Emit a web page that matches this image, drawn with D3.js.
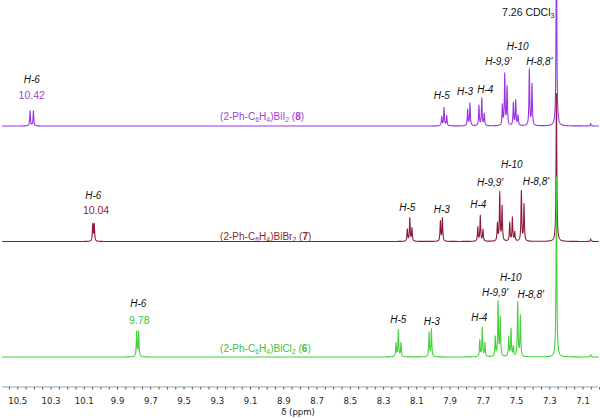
<!DOCTYPE html>
<html><head><meta charset="utf-8">
<script src="https://cdn.jsdelivr.net/npm/d3@7"></script>
<style>body{margin:0;background:#fff}svg{display:block}</style>
</head><body>
<svg id="c" width="600" height="419"></svg>
<script>
// ---------- data ----------
const axisLabels = [10.5,10.3,10.1,9.9,9.7,9.5,9.3,9.1,8.9,8.7,8.5,8.3,8.1,7.9,7.7,7.5,7.3,7.1];

// (2-Ph-C6H4)BiI2 (8)
const shifts8  = [10.426,10.406,7.950,7.936,7.920,7.794,7.780,7.726,7.709,7.694,7.585,7.571,7.557,7.519,7.505,7.491,7.423,7.407,7.26,7.054];
const heights8 = [15,15,9,18,10,16,22.5,20,27.5,12,20,51,38.5,22.5,25,10,56,41,200,2.5];
// (2-Ph-C6H4)BiBr2 (7)
const shifts7  = [10.049,10.040,8.157,8.142,8.129,7.958,7.946,7.733,7.718,7.702,7.615,7.601,7.587,7.541,7.525,7.511,7.471,7.455,7.26,7.054];
const heights7 = [17,17,12,23,13,20,23,14,25.5,11.5,17.5,48,34.5,18.5,23.5,9,50,36.5,148,2.5];
// (2-Ph-C6H4)BiCl2 (6)
const shifts6  = [9.785,9.773,8.225,8.211,8.195,8.026,8.012,7.721,7.706,7.690,7.628,7.611,7.598,7.547,7.533,7.519,7.493,7.477,7.26,7.054];
const heights6 = [25,25,13.5,26.5,14,24.5,27.5,16.5,29,14,19.5,54.5,38.5,19.5,27.5,9.5,54,40.5,180,2.5];

const hLabels = ["H-6","H-5","H-3","H-4","H-9,9'","H-10","H-8,8'"];
const labelShift8  = [10.416,7.950,7.810,7.688,7.609,7.493,7.363];
const labelHeight8 = [46.7,31,35,36.7,64.3,79.3,65];
const labelShift7  = [10.046,8.157,7.950,7.730,7.659,7.529,7.383];
const labelHeight7 = [45.7,34,32.4,37.4,59,76.7,60];
const labelShift6  = [9.775,8.211,8.010,7.724,7.629,7.535,7.415];
const labelHeight6 = [53.4,37.4,35.7,40,64.4,80,62.7];

const h6Values  = ["10.42","10.04","9.78"];
const h6Shift   = [10.416,10.029,9.769];
const h6Height  = [31,31.4,36.7];

const compoundNames  = ["(2-Ph-C_6H_4)BiI_2 (*8*)","(2-Ph-C_6H_4)BiBr_2 (*7*)","(2-Ph-C_6H_4)BiCl_2 (*6*)"];
const compoundShift  = 9.283;
const compoundHeight = [10,5.5,8.7];

const solventLabel = "7.26 CDCl_3";
const solventShift = 7.26;
const solventHeight = 113.3;

// ---------- rendering ----------
const svg = d3.select("#c");
const x = d3.scaleLinear().domain([10.607, 6.998]).range([0, 600]);

const traces = [
  {shifts: shifts8, heights: heights8, base: 126,   line: "#9a33e6", text: "#9f3fd6", lShift: labelShift8, lHeight: labelHeight8},
  {shifts: shifts7, heights: heights7, base: 241.5, line: "#8e1b3b", text: "#8c1f2f", lShift: labelShift7, lHeight: labelHeight7},
  {shifts: shifts6, heights: heights6, base: 357,   line: "#47cf3f", text: "#3cc23c", lShift: labelShift6, lHeight: labelHeight6}
];

const gamma = 0.0026;
function spectrum(shifts, heights) {
  const grid = d3.range(10.595, 7.005, -0.001).concat(shifts).sort((a,b)=>b-a);
  return grid.map(p => {
    let s = 0;
    for (let i = 0; i < shifts.length; i++) {
      const d = (p - shifts[i]) / gamma;
      s += heights[i] / (1 + d*d);
    }
    return [p, s];
  });
}

function richText(sel, str) {
  // _c => subscript char; *...* => bold
  let i = 0, bold = false, buf = "";
  const flush = () => { if (buf) { sel.append("tspan").attr("font-weight", bold ? "bold" : null).text(buf); buf = ""; } };
  while (i < str.length) {
    const c = str[i];
    if (c === "_") {
      flush();
      sel.append("tspan").attr("font-size", "7px").attr("baseline-shift", "-2").text(str[i+1]);
      i += 2; continue;
    }
    if (c === "*") { flush(); bold = !bold; i++; continue; }
    buf += c; i++;
  }
  flush();
}

traces.forEach((t, k) => {
  const y = d3.scaleLinear().domain([0, 100]).range([t.base, t.base - 100]);
  const data = spectrum(t.shifts, t.heights);
  svg.append("path")
    .attr("d", d3.line().x(d => x(d[0])).y(d => y(d[1]))(data))
    .attr("fill", "none").attr("stroke", t.line).attr("stroke-width", 1.1)
    .attr("stroke-linejoin", "round");

  t.lShift.forEach((s, i) => {
    svg.append("text")
      .attr("x", x(s)).attr("y", y(t.lHeight[i]))
      .attr("text-anchor", "middle").attr("dominant-baseline", "central")
      .attr("font-family", "Liberation Sans, Arial, sans-serif")
      .attr("font-style", "italic").attr("font-size", "10px").attr("fill", "#111")
      .text(hLabels[i]);
  });
  svg.append("text")
    .attr("x", x(h6Shift[k])).attr("y", y(h6Height[k]))
    .attr("text-anchor", "middle").attr("dominant-baseline", "central")
    .attr("font-family", "Liberation Sans, Arial, sans-serif")
    .attr("font-size", "10.5px").attr("fill", t.text)
    .text(h6Values[k]);

  const ct = svg.append("text")
    .attr("x", x(compoundShift)).attr("y", y(compoundHeight[k]) + 3.5)
    .attr("font-family", "Liberation Sans, Arial, sans-serif")
    .attr("font-size", "10px").attr("fill", t.text);
  richText(ct, compoundNames[k]);

  if (k === 0) {
    const st = svg.append("text")
      .attr("x", x(solventShift) - 2).attr("y", y(solventHeight) + 3.7)
      .attr("text-anchor", "end")
      .attr("font-family", "Liberation Sans, Arial, sans-serif")
      .attr("font-size", "10.5px").attr("fill", "#111");
    richText(st, solventLabel);
  }
});

// axis
const axisY = 387;
const g = svg.append("g").attr("transform", `translate(0,${axisY})`);
g.append("line").attr("x1", 2).attr("x2", 598).attr("stroke", "#9aa3a3").attr("stroke-width", 1);
const minor = d3.range(10.55, 7.0, -0.05);
g.selectAll("line.tk").data(minor).join("line").attr("class","tk")
  .attr("x1", d => x(d)).attr("x2", d => x(d))
  .attr("y1", 0).attr("y2", 2.5)
  .attr("stroke", "#555").attr("stroke-width", 1);
g.selectAll("text.tl").data(axisLabels).join("text").attr("class","tl")
  .attr("x", d => x(d)).attr("y", 14)
  .attr("text-anchor", "middle").attr("dominant-baseline", "central")
  .attr("font-family", "DejaVu Sans, Verdana, sans-serif").attr("font-size", "8.5px").attr("fill", "#222")
  .text(d => d3.format(".1f")(d));
svg.append("text").attr("x", 298).attr("y", 412)
  .attr("text-anchor", "middle").attr("dominant-baseline", "central")
  .attr("font-family", "DejaVu Sans, Verdana, sans-serif").attr("font-size", "8.5px").attr("fill", "#222")
  .text("δ (ppm)");
</script>
</body></html>
